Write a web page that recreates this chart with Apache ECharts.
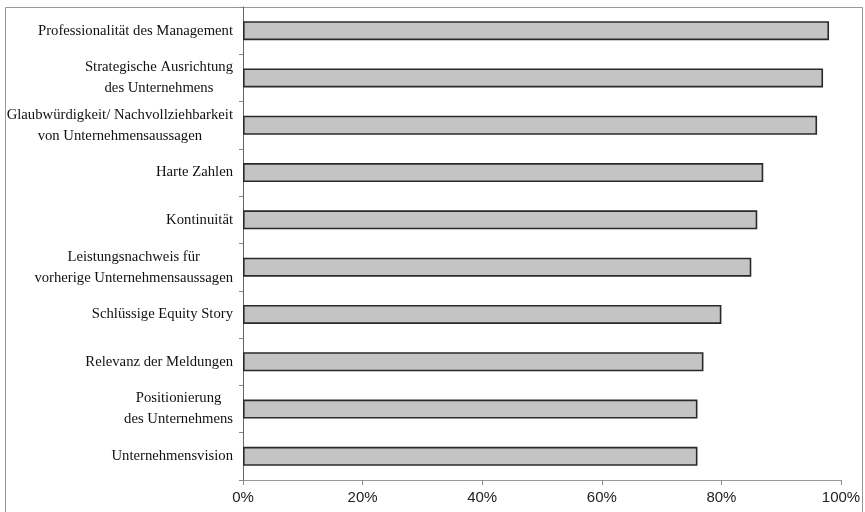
<!DOCTYPE html>
<html><head><meta charset="utf-8">
<script src="https://cdn.jsdelivr.net/npm/echarts@6/dist/echarts.min.js"></script>
<style>html,body{margin:0;padding:0;background:#fff}#c{width:865px;height:512px}</style>
</head><body><div id="c"></div>
<script>
const categories = [
  "Professionalität des Management",
  "Strategische Ausrichtung\ndes Unternehmens",
  "Glaubwürdigkeit/ Nachvollziehbarkeit\nvon Unternehmensaussagen",
  "Harte Zahlen",
  "Kontinuität",
  "Leistungsnachweis für\nvorherige Unternehmensaussagen",
  "Schlüssige Equity Story",
  "Relevanz der Meldungen",
  "Positionierung\ndes Unternehmens",
  "Unternehmensvision"
];
const values = [98, 97, 96, 87, 86, 85, 80, 77, 76, 76];
const xTicks = [0, 20, 40, 60, 80, 100];

const chart = echarts.init(document.getElementById('c'));
chart.setOption({
  animation: false,
  backgroundColor: '#fff',
  graphic: [{
    type: 'rect', shape: {x: 5.5, y: 7.5, width: 857, height: 520},
    style: {fill: 'none', stroke: '#999', lineWidth: 1}, z: -1
  }],
  grid: {left: 243, right: 24, top: 7, bottom: 32, containLabel: false},
  xAxis: {
    type: 'value', min: 0, max: 100, interval: 20,
    axisLine: {show: true, lineStyle: {color: '#999', width: 1}},
    axisTick: {show: true, length: 5, lineStyle: {color: '#888'}},
    splitLine: {show: false},
    axisLabel: {
      margin: 10, color: '#222', fontFamily: 'Liberation Sans', fontSize: 15,
      formatter: v => xTicks.includes(v) ? v + '%' : ''
    }
  },
  yAxis: {
    type: 'category', data: categories, inverse: true,
    axisLine: {show: true, lineStyle: {color: '#666', width: 1}},
    axisTick: {show: true, length: 4, lineStyle: {color: '#888'}},
    axisLabel: {
      margin: 10, color: '#111', fontFamily: 'Liberation Serif', fontSize: 14.7,
      lineHeight: 21,
      formatter: v => v.split('\n').map(s => '{c|' + s + '}').join('\n'),
      rich: {c: {align: 'center', fontFamily: 'Liberation Serif', fontSize: 14.7, lineHeight: 21, color: '#111'}}
    }
  },
  series: [{
    type: 'bar', data: values, barWidth: 19,
    itemStyle: {color: '#c4c4c4', borderColor: '#2a2a2a', borderWidth: 1.6}
  }]
});
</script>
</body></html>
